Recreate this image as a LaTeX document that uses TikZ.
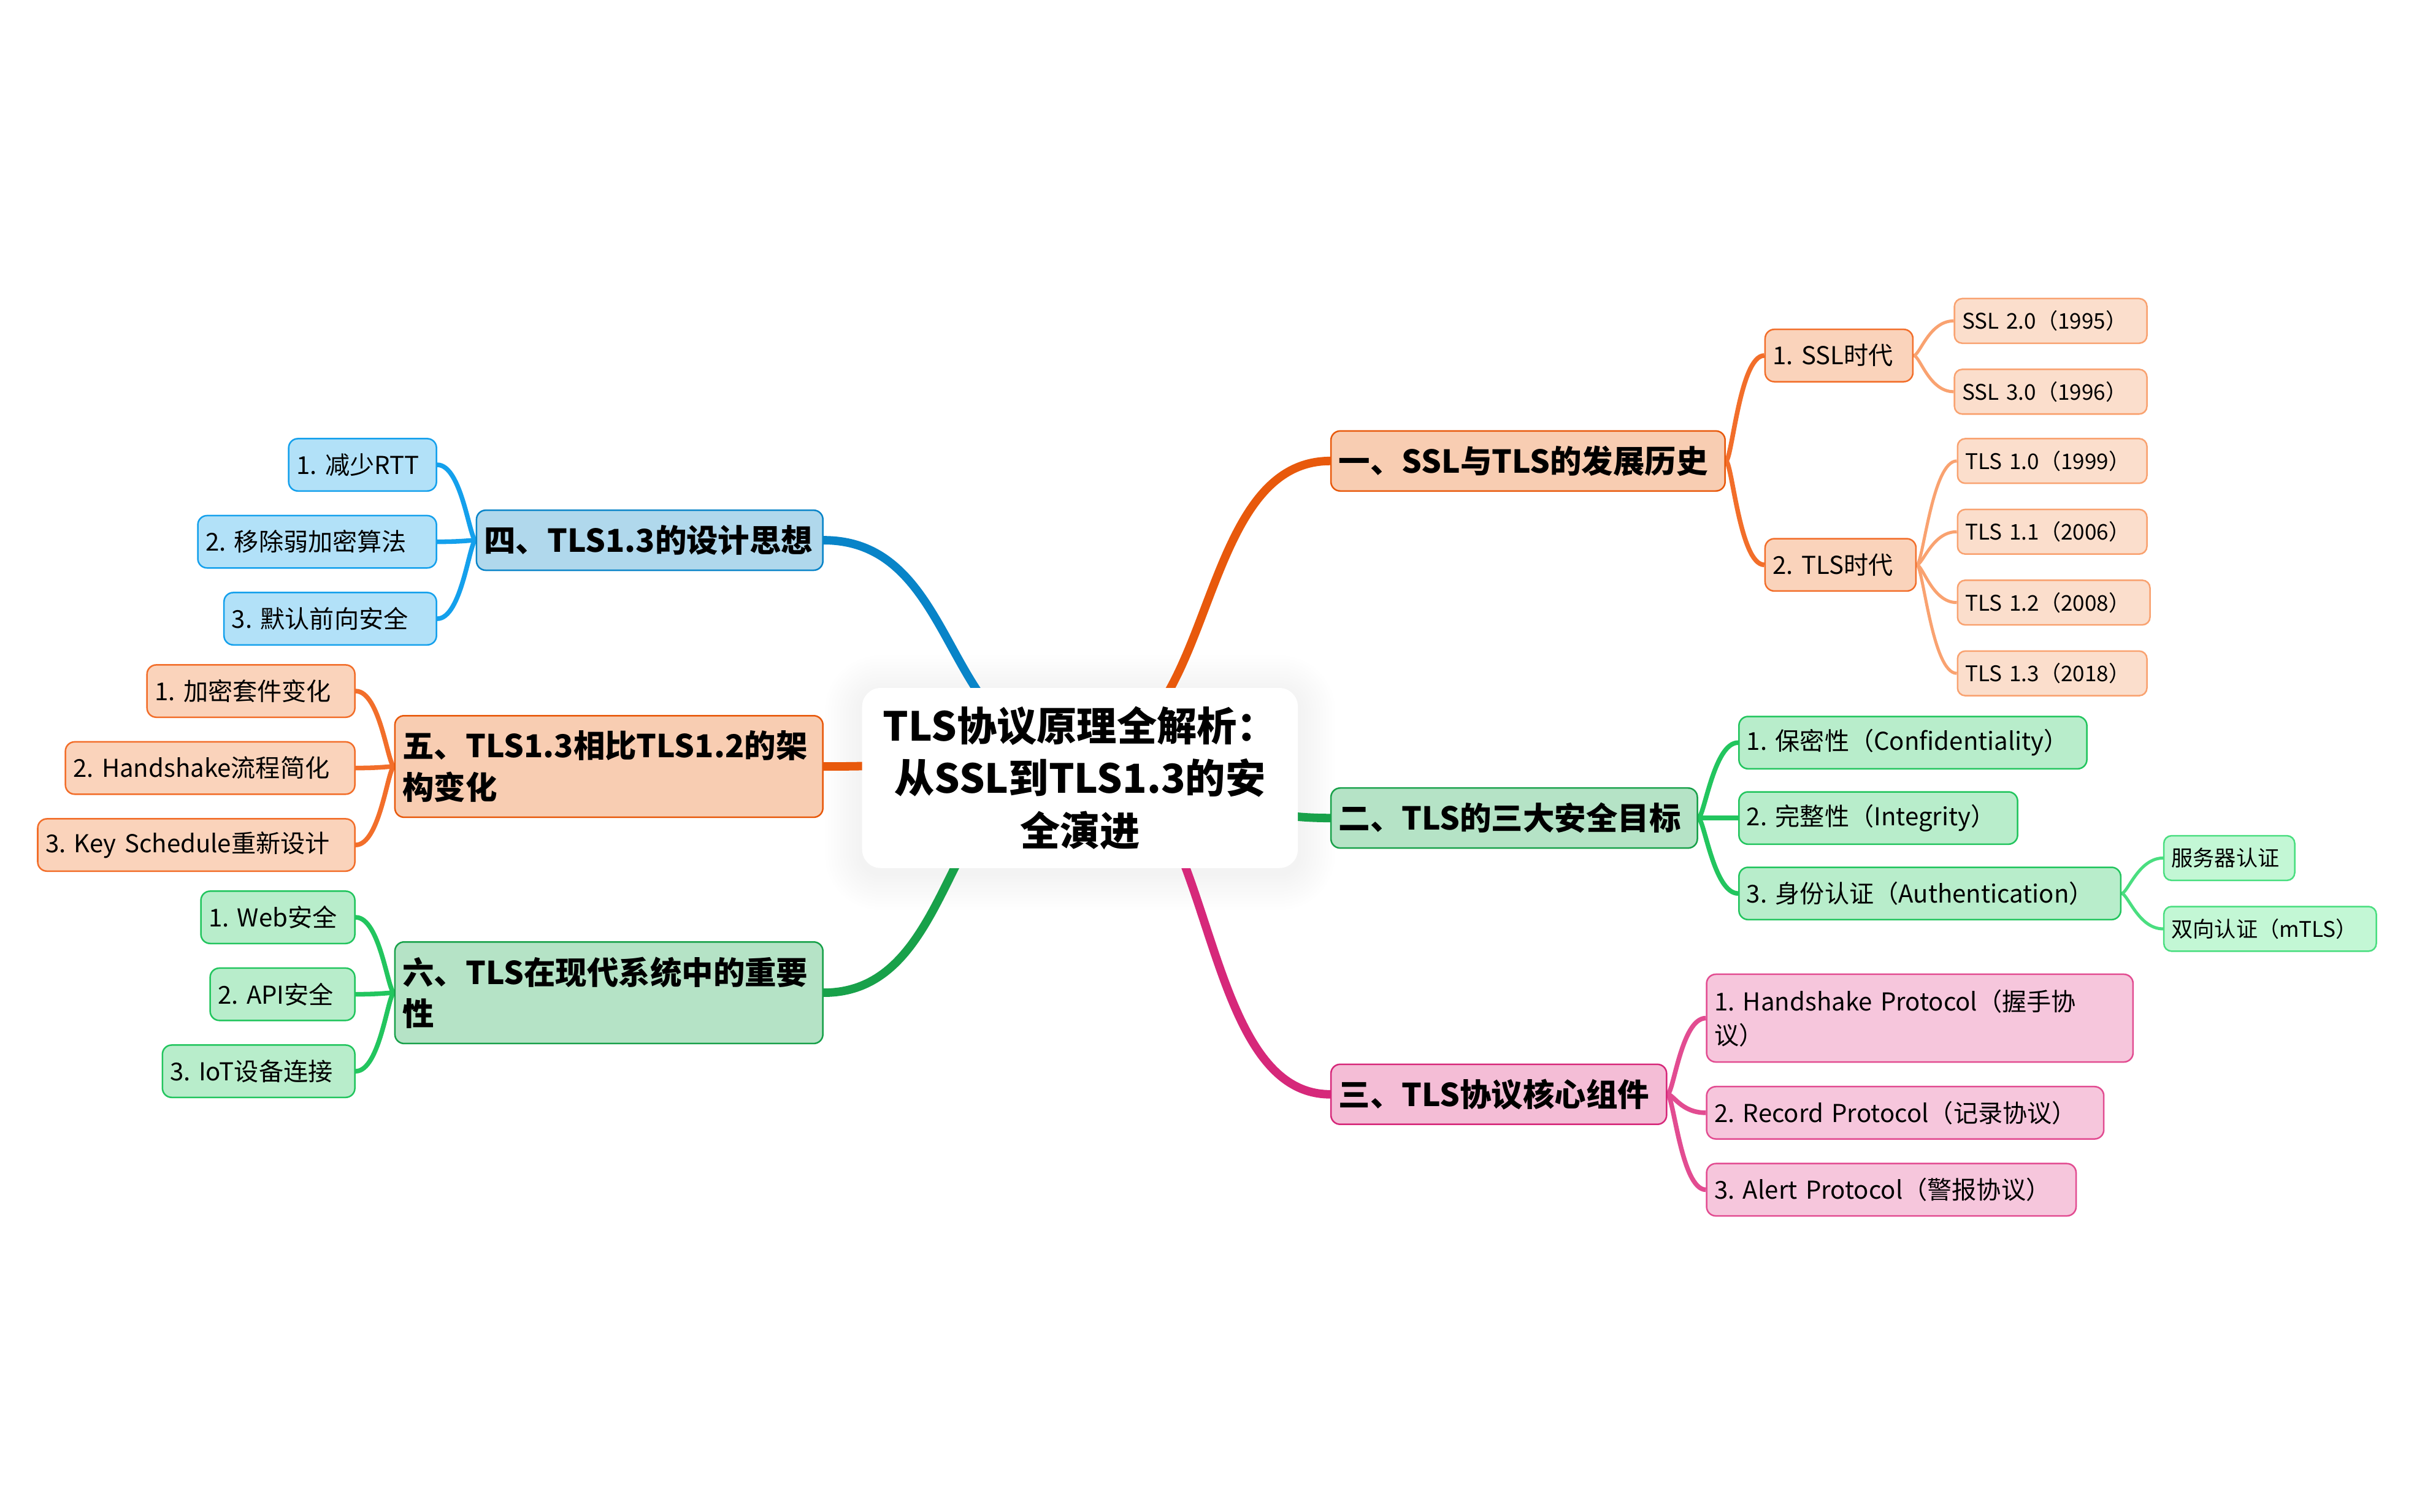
\documentclass[tikz,border=0pt]{standalone}
\usepackage{fontspec}
\setmainfont{Noto Sans CJK SC}
\usetikzlibrary{positioning}
\definecolor{orgdeep}{RGB}{232,89,12}
\definecolor{orgline}{RGB}{242,110,42}
\definecolor{orgsoft}{RGB}{249,162,112}
\definecolor{orgsec}{RGB}{248,205,178}
\definecolor{orgsub}{RGB}{250,211,187}
\definecolor{orgleaf}{RGB}{251,222,204}
\definecolor{grndeep}{RGB}{24,161,74}
\definecolor{grnline}{RGB}{34,197,94}
\definecolor{grnsoft}{RGB}{74,222,128}
\definecolor{grnsec}{RGB}{181,227,198}
\definecolor{grnsub}{RGB}{184,237,203}
\definecolor{grnleaf}{RGB}{195,247,213}
\definecolor{pnkdeep}{RGB}{214,40,122}
\definecolor{pnkline}{RGB}{226,76,145}
\definecolor{pnksec}{RGB}{244,189,214}
\definecolor{pnksub}{RGB}{246,198,220}
\definecolor{bludeep}{RGB}{8,132,200}
\definecolor{bluline}{RGB}{20,160,236}
\definecolor{blusec}{RGB}{176,216,236}
\definecolor{blusub}{RGB}{178,225,248}
\pgfdeclarelayer{bg}
\pgfdeclarelayer{shade}
\pgfdeclarelayer{wires}
\pgfsetlayers{bg,shade,wires,main}
\frenchspacing

\begin{document}
\begin{tikzpicture}[x=1pt,y=-1pt,
  box/.style={rectangle,rounded corners=6pt,draw,line width=1pt,inner xsep=5pt,inner ysep=2pt,align=left,anchor=west},
  rootbox/.style={rectangle,rounded corners=12pt,fill=white,minimum width=283pt,minimum height=117pt,text width=263pt,align=center,font=\bfseries\fontsize{26}{34}\selectfont},
  sec/.style={box,minimum height=39pt,font=\bfseries\fontsize{20.5}{27}\selectfont},
  sub/.style={box,minimum height=34pt,font=\fontsize{16}{22}\selectfont},
  leaf/.style={box,minimum height=29pt,rounded corners=5pt,font=\fontsize{14}{18}\selectfont},
  trunk/.style={line width=5.5pt,line cap=round},
  twig/.style={line width=3pt},
  stem/.style={line width=2pt}]
  \useasboundingbox (0,0) rectangle (1568,982);
  \begin{pgfonlayer}{bg}
    \fill[white] (0,0) rectangle (1568,982);
  \end{pgfonlayer}

  % centre
  \node[rootbox] (root) at (701.5,505.5) {TLS协议原理全解析：\\从SSL到TLS1.3的安\\全演进};
  \coordinate (fork) at (701.5,490);
  \begin{pgfonlayer}{shade}
    \foreach \s [evaluate=\s as \r using 12+\s] in {2,4,...,24}
      \fill[black,opacity=0.005,rounded corners=\r pt] ([shift={(-\s,-\s+3)}]root.north west) rectangle ([shift={(\s,\s+3)}]root.south east);
  \end{pgfonlayer}

  % sections
  \node[sec,fill=orgsec,draw=orgdeep,text width=246pt] (sec1) at (864,299.5) {一、SSL与TLS的发展历史};
  \node[sec,fill=grnsec,draw=grndeep,text width=228pt] (sec2) at (864,531.5) {二、TLS的三大安全目标};
  \node[sec,fill=pnksec,draw=pnkdeep,text width=208pt] (sec3) at (864,711) {三、TLS协议核心组件};
  \node[sec,fill=blusec,draw=bludeep,text width=215pt,anchor=east] (sec4) at (535,351) {四、TLS1.3的设计思想};
  \node[sec,fill=orgsec,draw=orgdeep,text width=268pt,minimum height=66pt,anchor=east] (sec5) at (535,498) {五、TLS1.3相比TLS1.2的架\\构变化};
  \node[sec,fill=grnsec,draw=grndeep,text width=268pt,minimum height=66pt,anchor=east] (sec6) at (535,645) {六、TLS在现代系统中的重要\\性};

  % 一
  \node[sub,fill=orgsub,draw=orgline,text width=86pt] (s1a) at (1146,231) {1. SSL时代};
  \node[sub,fill=orgsub,draw=orgline,text width=88pt] (s1b) at (1146,367) {2. TLS时代};
  \node[leaf,fill=orgleaf,draw=orgsoft,text width=115pt] (s1a1) at (1269,208.5) {SSL 2.0（1995）};
  \node[leaf,fill=orgleaf,draw=orgsoft,text width=115pt,below=16pt of s1a1.south west,anchor=north west] (s1a2) {SSL 3.0（1996）};
  \node[leaf,fill=orgleaf,draw=orgsoft,text width=113pt] (s1b1) at (1271,299.5) {TLS 1.0（1999）};
  \node[leaf,fill=orgleaf,draw=orgsoft,text width=113pt,below=16pt of s1b1.south west,anchor=north west] (s1b2) {TLS 1.1（2006）};
  \node[leaf,fill=orgleaf,draw=orgsoft,text width=115pt,below=16pt of s1b2.south west,anchor=north west] (s1b3) {TLS 1.2（2008）};
  \node[leaf,fill=orgleaf,draw=orgsoft,text width=113pt,below=16pt of s1b3.south west,anchor=north west] (s1b4) {TLS 1.3（2018）};

  % 二
  \node[sub,fill=grnsub,draw=grnline,text width=216pt] (s2a) at (1129,482.5) {1. 保密性（Confidentiality）};
  \node[sub,fill=grnsub,draw=grnline,text width=171pt,below=14pt of s2a.south west,anchor=north west] (s2b) {2. 完整性（Integrity）};
  \node[sub,fill=grnsub,draw=grnline,text width=238pt,below=14pt of s2b.south west,anchor=north west] (s2c) {3. 身份认证（Authentication）};
  \node[leaf,fill=grnleaf,draw=grnsoft,text width=75pt] (s2c1) at (1405,557.5) {服务器认证};
  \node[leaf,fill=grnleaf,draw=grnsoft,text width=128pt,below=16pt of s2c1.south west,anchor=north west] (s2c2) {双向认证（mTLS）};

  % 三
  \node[sub,fill=pnksub,draw=pnkline,text width=267pt,minimum height=57pt] (s3a) at (1108,661.5) {1. Handshake Protocol（握手协\\议）};
  \node[sub,fill=pnksub,draw=pnkline,text width=248pt,below=15pt of s3a.south west,anchor=north west] (s3b) {2. Record Protocol（记录协议）};
  \node[sub,fill=pnksub,draw=pnkline,text width=230pt,below=15pt of s3b.south west,anchor=north west] (s3c) {3. Alert Protocol（警报协议）};

  % 四
  \node[sub,fill=blusub,draw=bluline,text width=86pt,anchor=east] (s4a) at (284,302) {1. 减少RTT};
  \node[sub,fill=blusub,draw=bluline,text width=145pt,below=15pt of s4a.south east,anchor=north east] (s4b) {2. 移除弱加密算法};
  \node[sub,fill=blusub,draw=bluline,text width=128pt,below=15pt of s4b.south east,anchor=north east] (s4c) {3. 默认前向安全};

  % 五
  \node[sub,fill=orgsub,draw=orgline,text width=125pt,anchor=east] (s5a) at (231,449) {1. 加密套件变化};
  \node[sub,fill=orgsub,draw=orgline,text width=178pt,below=15pt of s5a.south east,anchor=north east] (s5b) {2. Handshake流程简化};
  \node[sub,fill=orgsub,draw=orgline,text width=196pt,below=15pt of s5b.south east,anchor=north east] (s5c) {3. Key Schedule重新设计};

  % 六
  \node[sub,fill=grnsub,draw=grnline,text width=90pt,anchor=east] (s6a) at (231,596) {1. Web安全};
  \node[sub,fill=grnsub,draw=grnline,text width=84pt,below=15pt of s6a.south east,anchor=north east] (s6b) {2. API安全};
  \node[sub,fill=grnsub,draw=grnline,text width=115pt,below=15pt of s6b.south east,anchor=north east] (s6c) {3. IoT设备连接};

  \begin{pgfonlayer}{wires}
    \draw[trunk,orgdeep] (fork) .. controls ([xshift=90pt]fork) and ([xshift=-90pt]sec1.west) .. (sec1.west);
    \draw[trunk,grndeep] (fork) .. controls ([xshift=90pt]fork) and ([xshift=-90pt]sec2.west) .. (sec2.west);
    \draw[trunk,pnkdeep] (fork) .. controls ([xshift=90pt]fork) and ([xshift=-90pt]sec3.west) .. (sec3.west);
    \draw[trunk,bludeep] (fork) .. controls ([xshift=-90pt]fork) and ([xshift=90pt]sec4.east) .. (sec4.east);
    \draw[trunk,orgdeep] (fork) .. controls ([xshift=-90pt]fork) and ([xshift=90pt]sec5.east) .. (sec5.east);
    \draw[trunk,grndeep] (fork) .. controls ([xshift=-90pt]fork) and ([xshift=90pt]sec6.east) .. (sec6.east);

    \foreach \kid in {s1a,s1b}
      \draw[twig,orgline] (sec1.east) .. controls ([xshift=4pt]sec1.east) and ([xshift=-16pt]\kid.west) .. (\kid.west);
    \foreach \kid in {s1a1,s1a2}
      \draw[stem,orgsoft] (s1a.east) .. controls ([xshift=4pt]s1a.east) and ([xshift=-16pt]\kid.west) .. (\kid.west);
    \foreach \kid in {s1b1,s1b2,s1b3,s1b4}
      \draw[stem,orgsoft] (s1b.east) .. controls ([xshift=4pt]s1b.east) and ([xshift=-16pt]\kid.west) .. (\kid.west);
    \foreach \kid in {s2a,s2b,s2c}
      \draw[twig,grnline] (sec2.east) .. controls ([xshift=4pt]sec2.east) and ([xshift=-16pt]\kid.west) .. (\kid.west);
    \foreach \kid in {s2c1,s2c2}
      \draw[stem,grnsoft] (s2c.east) .. controls ([xshift=4pt]s2c.east) and ([xshift=-16pt]\kid.west) .. (\kid.west);
    \foreach \kid in {s3a,s3b,s3c}
      \draw[twig,pnkline] (sec3.east) .. controls ([xshift=4pt]sec3.east) and ([xshift=-16pt]\kid.west) .. (\kid.west);
    \foreach \kid in {s4a,s4b,s4c}
      \draw[twig,bluline] (sec4.west) .. controls ([xshift=-4pt]sec4.west) and ([xshift=16pt]\kid.east) .. (\kid.east);
    \foreach \kid in {s5a,s5b,s5c}
      \draw[twig,orgline] (sec5.west) .. controls ([xshift=-4pt]sec5.west) and ([xshift=16pt]\kid.east) .. (\kid.east);
    \foreach \kid in {s6a,s6b,s6c}
      \draw[twig,grnline] (sec6.west) .. controls ([xshift=-4pt]sec6.west) and ([xshift=16pt]\kid.east) .. (\kid.east);
  \end{pgfonlayer}
\end{tikzpicture}
\end{document}
